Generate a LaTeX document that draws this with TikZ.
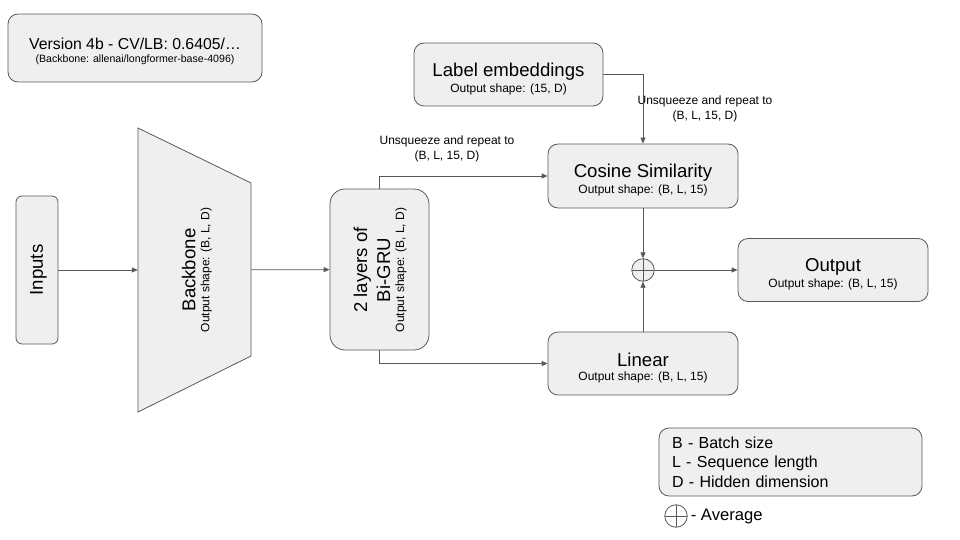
\documentclass[tikz,border=0pt]{standalone}
\usepackage{fontspec}
\setmainfont{Liberation Sans}
\usetikzlibrary{arrows.meta}
\definecolor{boxfill}{HTML}{EFEFEF}
\definecolor{linegray}{HTML}{595959}
\newcommand{\bigtxt}{\fontsize{18.6}{21}\selectfont}
\newcommand{\smalltxt}{\fontsize{12}{14}\selectfont}
\newcommand{\blocktext}[2]{\rule{0pt}{22pt}{\bigtxt #1}\\[2pt]{\smalltxt #2}}
\begin{document}
\begin{tikzpicture}[x=1pt,y=-1pt,>={Triangle[length=6pt,width=5pt]}]
\tikzstyle{block}=[draw=linegray,fill=boxfill,line width=0.8pt,rounded corners=10pt,align=center,inner sep=0pt];
\tikzstyle{txt}=[align=center,inner sep=0pt];
\tikzstyle{arr}=[->,draw=linegray,line width=0.8pt];
\tikzstyle{avgsym}=[draw=linegray,line width=0.8pt,circle,minimum size=22.5pt,inner sep=0pt,
  path picture={\draw[linegray,line width=0.8pt] (path picture bounding box.north) -- (path picture bounding box.south)
  (path picture bounding box.west) -- (path picture bounding box.east);}];
\useasboundingbox (0,0) rectangle (960,540);
% title
    \node[block,minimum width=254,minimum height=68] (ver) at (135,48)
      {\rule{0pt}{19pt}{\fontsize{15.8}{17}\selectfont Version 4b - CV/LB: 0.6405/…}\\[1pt]
       {\fontsize{10.6}{12}\selectfont (Backbone: allenai/longformer-base-4096)}};
% nodes
    \node[block,rounded corners=6pt,minimum width=42,minimum height=148] (inp) at (37,270) {};
    \node[txt,rotate=90,font=\bigtxt] (inptxt) at (38.5,270) {Inputs};
    \path[draw=linegray,fill=boxfill,line width=0.8pt] (138,128) -- (251,183) -- (251,356) -- (138,412) -- cycle;
    \node[txt,minimum width=113,minimum height=284] (bb) at (194.5,270) {};
    \node[txt,rotate=90,font=\bigtxt] (bbtxt) at (197,270) {Backbone\\[-7pt]{\smalltxt Output shape: (B, L, D)}};
    \node[block,rounded corners=15pt,minimum width=99,minimum height=161] (gru) at (379.5,269.5) {};
    \node[txt,rotate=90,font=\bigtxt] (grutxt) at (380,270) {2 layers of\\[2pt]Bi-GRU\\[-7pt]{\smalltxt Output shape: (B, L, D)}};
    \node[block,minimum width=189,minimum height=63] (lab) at (508.5,74.5)
      {\blocktext{Label embeddings}{Output shape: (15, D)}};
    \node[block,minimum width=190,minimum height=64] (cos) at (643,176)
      {\blocktext{Cosine Similarity}{Output shape: (B, L, 15)}};
    \node[block,minimum width=190,minimum height=63] (lin) at (643,363.5)
      {\blocktext{Linear}{Output shape: (B, L, 15)}};
    \node[block,minimum width=190,minimum height=63] (out) at (833,270)
      {\blocktext{Output}{Output shape: (B, L, 15)}};
    \node[avgsym,fill=boxfill] (avg) at (643,270) {};
%   labels
    \node[txt,font=\smalltxt] (rep1) at (447,149) {Unsqueeze and repeat to\\[1pt](B, L, 15, D)};
    \node[txt,font=\smalltxt] (rep2) at (705,109) {Unsqueeze and repeat to\\[1pt](B, L, 15, D)};
% legend
    \node[block,minimum width=263,minimum height=68,align=left,text width=237,
      font=\fontsize{16}{19.5}\selectfont] (key) at (790.5,462)
      {B - Batch size\\L - Sequence length\\D - Hidden dimension};
    \node[avgsym,fill=white] (avgkey) at (676,516) {};
    \node[txt,right=3pt,yshift=-1pt,font=\fontsize{16.6}{19}\selectfont] (avgtxt) at (avgkey.east) {- Average};
% edges
    \draw[arr] (inp) -- (bb);
    \draw[arr] (bb) -- (gru);
    \draw[arr] (gru.north) |- (cos.west);
    \draw[arr] (gru.south) |- (lin.west);
    \draw[arr] (lab.east) -| (cos.north);
    \draw[arr] (cos) -- (avg);
    \draw[arr] (lin) -- (avg);
    \draw[arr] (avg) -- (out);
\end{tikzpicture}
\end{document}
